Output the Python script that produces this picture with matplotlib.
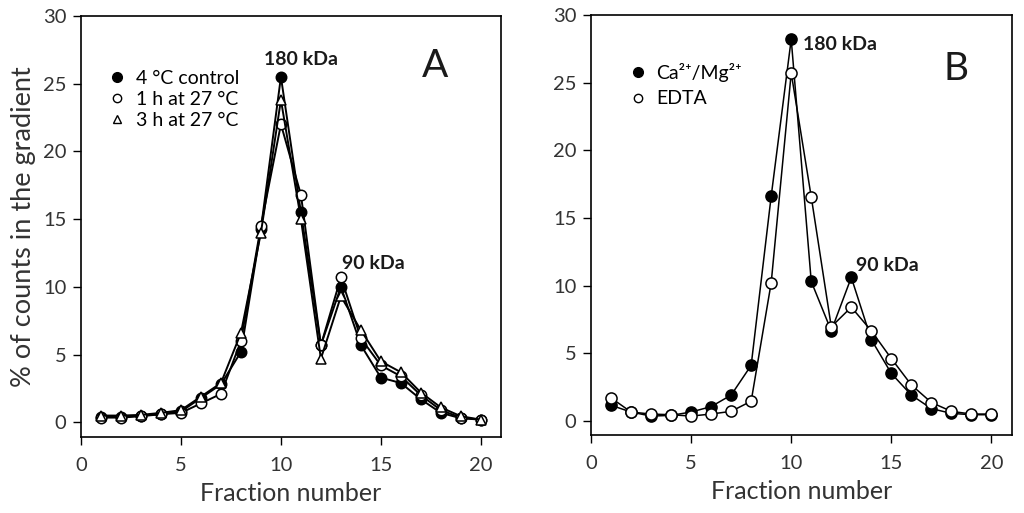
import numpy as np
import matplotlib
matplotlib.use("Agg")
import matplotlib.pyplot as plt
from matplotlib.lines import Line2D

plt.rcParams['font.family'] = ['Lato', 'DejaVu Sans']

# fraction numbers along the gradient
fractions = np.arange(1, 21)

# panel A: % of counts per fraction
a_control = [0.4, 0.4, 0.5, 0.6, 0.8, 1.8, 2.8, 5.2, 14.3, 25.5,
             15.5, 5.7, 10.0, 5.7, 3.3, 2.9, 1.7, 0.7, 0.3, 0.2]
a_1h = [0.35, 0.35, 0.45, 0.6, 0.7, 1.4, 2.1, 6.0, 14.5, 22.0,
        16.8, 5.7, 10.7, 6.2, 4.2, 3.4, 2.0, 0.9, 0.35, 0.2]
a_3h = [0.5, 0.5, 0.55, 0.7, 0.9, 1.9, 2.9, 6.6, 14.0, 23.8,
        15.0, 4.7, 9.3, 6.8, 4.5, 3.7, 2.2, 1.1, 0.45, 0.2]
a_labels = ["4 \u00b0C control", "1 h at 27 \u00b0C", "3 h at 27 \u00b0C"]

# panel B
b_camg = [1.15, 0.65, 0.35, 0.4, 0.65, 1.05, 1.9, 4.1, 16.6, 28.2,
          10.3, 6.65, 10.6, 6.0, 3.5, 1.9, 0.9, 0.55, 0.45, 0.45]
b_edta = [1.7, 0.65, 0.5, 0.45, 0.35, 0.5, 0.7, 1.45, 10.2, 25.7,
          16.55, 6.95, 8.4, 6.65, 4.6, 2.65, 1.35, 0.7, 0.5, 0.5]
b_labels = ["Ca\u00b2\u207a/Mg\u00b2\u207a", "EDTA"]

txt = '#1a1a1a'

fig = plt.figure(figsize=(10.24, 5.13), dpi=100)
axA = fig.add_axes([0.0791, 0.149, 0.410, 0.820])
axB = fig.add_axes([0.5771, 0.152, 0.4107, 0.819])

mk = dict(color='black', lw=1.4, markersize=7.5, markeredgewidth=1.1,
          markeredgecolor='black')
axA.plot(fractions, a_control, marker='o', markerfacecolor='black', **mk)
axA.plot(fractions, a_1h, marker='o', markerfacecolor='white', **mk)
axA.plot(fractions, a_3h, marker='^', markerfacecolor='white', **mk)

mkb = dict(color='black', lw=1.1, markersize=8, markeredgewidth=1.1,
           markeredgecolor='black')
axB.plot(fractions, b_camg, marker='o', markerfacecolor='black', **mkb)
axB.plot(fractions, b_edta, marker='o', markerfacecolor='white', **mkb)

for ax in (axA, axB):
    ax.set_xlim(0, 21)
    ax.set_ylim(-1.05, 30)
    ax.set_xticks([0, 5, 10, 15, 20])
    ax.set_yticks([0, 5, 10, 15, 20, 25, 30])
    ax.tick_params(direction='out', length=5.5, width=1, labelsize=14.5,
                   labelcolor='#333333')
    ax.tick_params(axis='x', pad=9)
    ax.tick_params(axis='y', pad=5)
    for s in ax.spines.values():
        s.set_linewidth(1.2)
    ax.set_xlabel("Fraction number", fontsize=18, color='#333333', labelpad=6)

axA.set_ylabel("% of counts in the gradient", fontsize=19.5, color='#333333',
               labelpad=5)

# annotations
axA.text(11.0, 26.8, "180 kDa", fontsize=14, fontweight='bold', ha='center',
         va='center', color=txt)
axA.text(13.05, 11.7, "90 kDa", fontsize=14, fontweight='bold', ha='left',
         va='center', color=txt)
axA.text(17.7, 26.3, "A", fontsize=28, ha='center', va='center', color=txt)

axB.text(10.6, 27.8, "180 kDa", fontsize=14, fontweight='bold', ha='left',
         va='center', color=txt)
axB.text(13.25, 11.5, "90 kDa", fontsize=14, fontweight='bold', ha='left',
         va='center', color=txt)
axB.text(18.25, 26.0, "B", fontsize=28, ha='center', va='center', color=txt)

hA = [Line2D([], [], ls='none', marker='o', mfc='black', mec='black', ms=7),
      Line2D([], [], ls='none', marker='o', mfc='white', mec='black', ms=6),
      Line2D([], [], ls='none', marker='^', mfc='white', mec='black', ms=6)]
axA.legend(hA, a_labels, loc='upper left', bbox_to_anchor=(0.045, 0.89),
           frameon=False, handlelength=1.0, handletextpad=0.45,
           labelspacing=0.2, fontsize=14, borderaxespad=0)

hB = [Line2D([], [], ls='none', marker='o', mfc='black', mec='black', ms=7),
      Line2D([], [], ls='none', marker='o', mfc='white', mec='black', ms=6)]
axB.legend(hB, b_labels, loc='upper left', bbox_to_anchor=(0.07, 0.905),
           frameon=False, handlelength=1.0, handletextpad=0.45,
           labelspacing=0.45, fontsize=14, borderaxespad=0)

fig.savefig("out.png", dpi=100)
